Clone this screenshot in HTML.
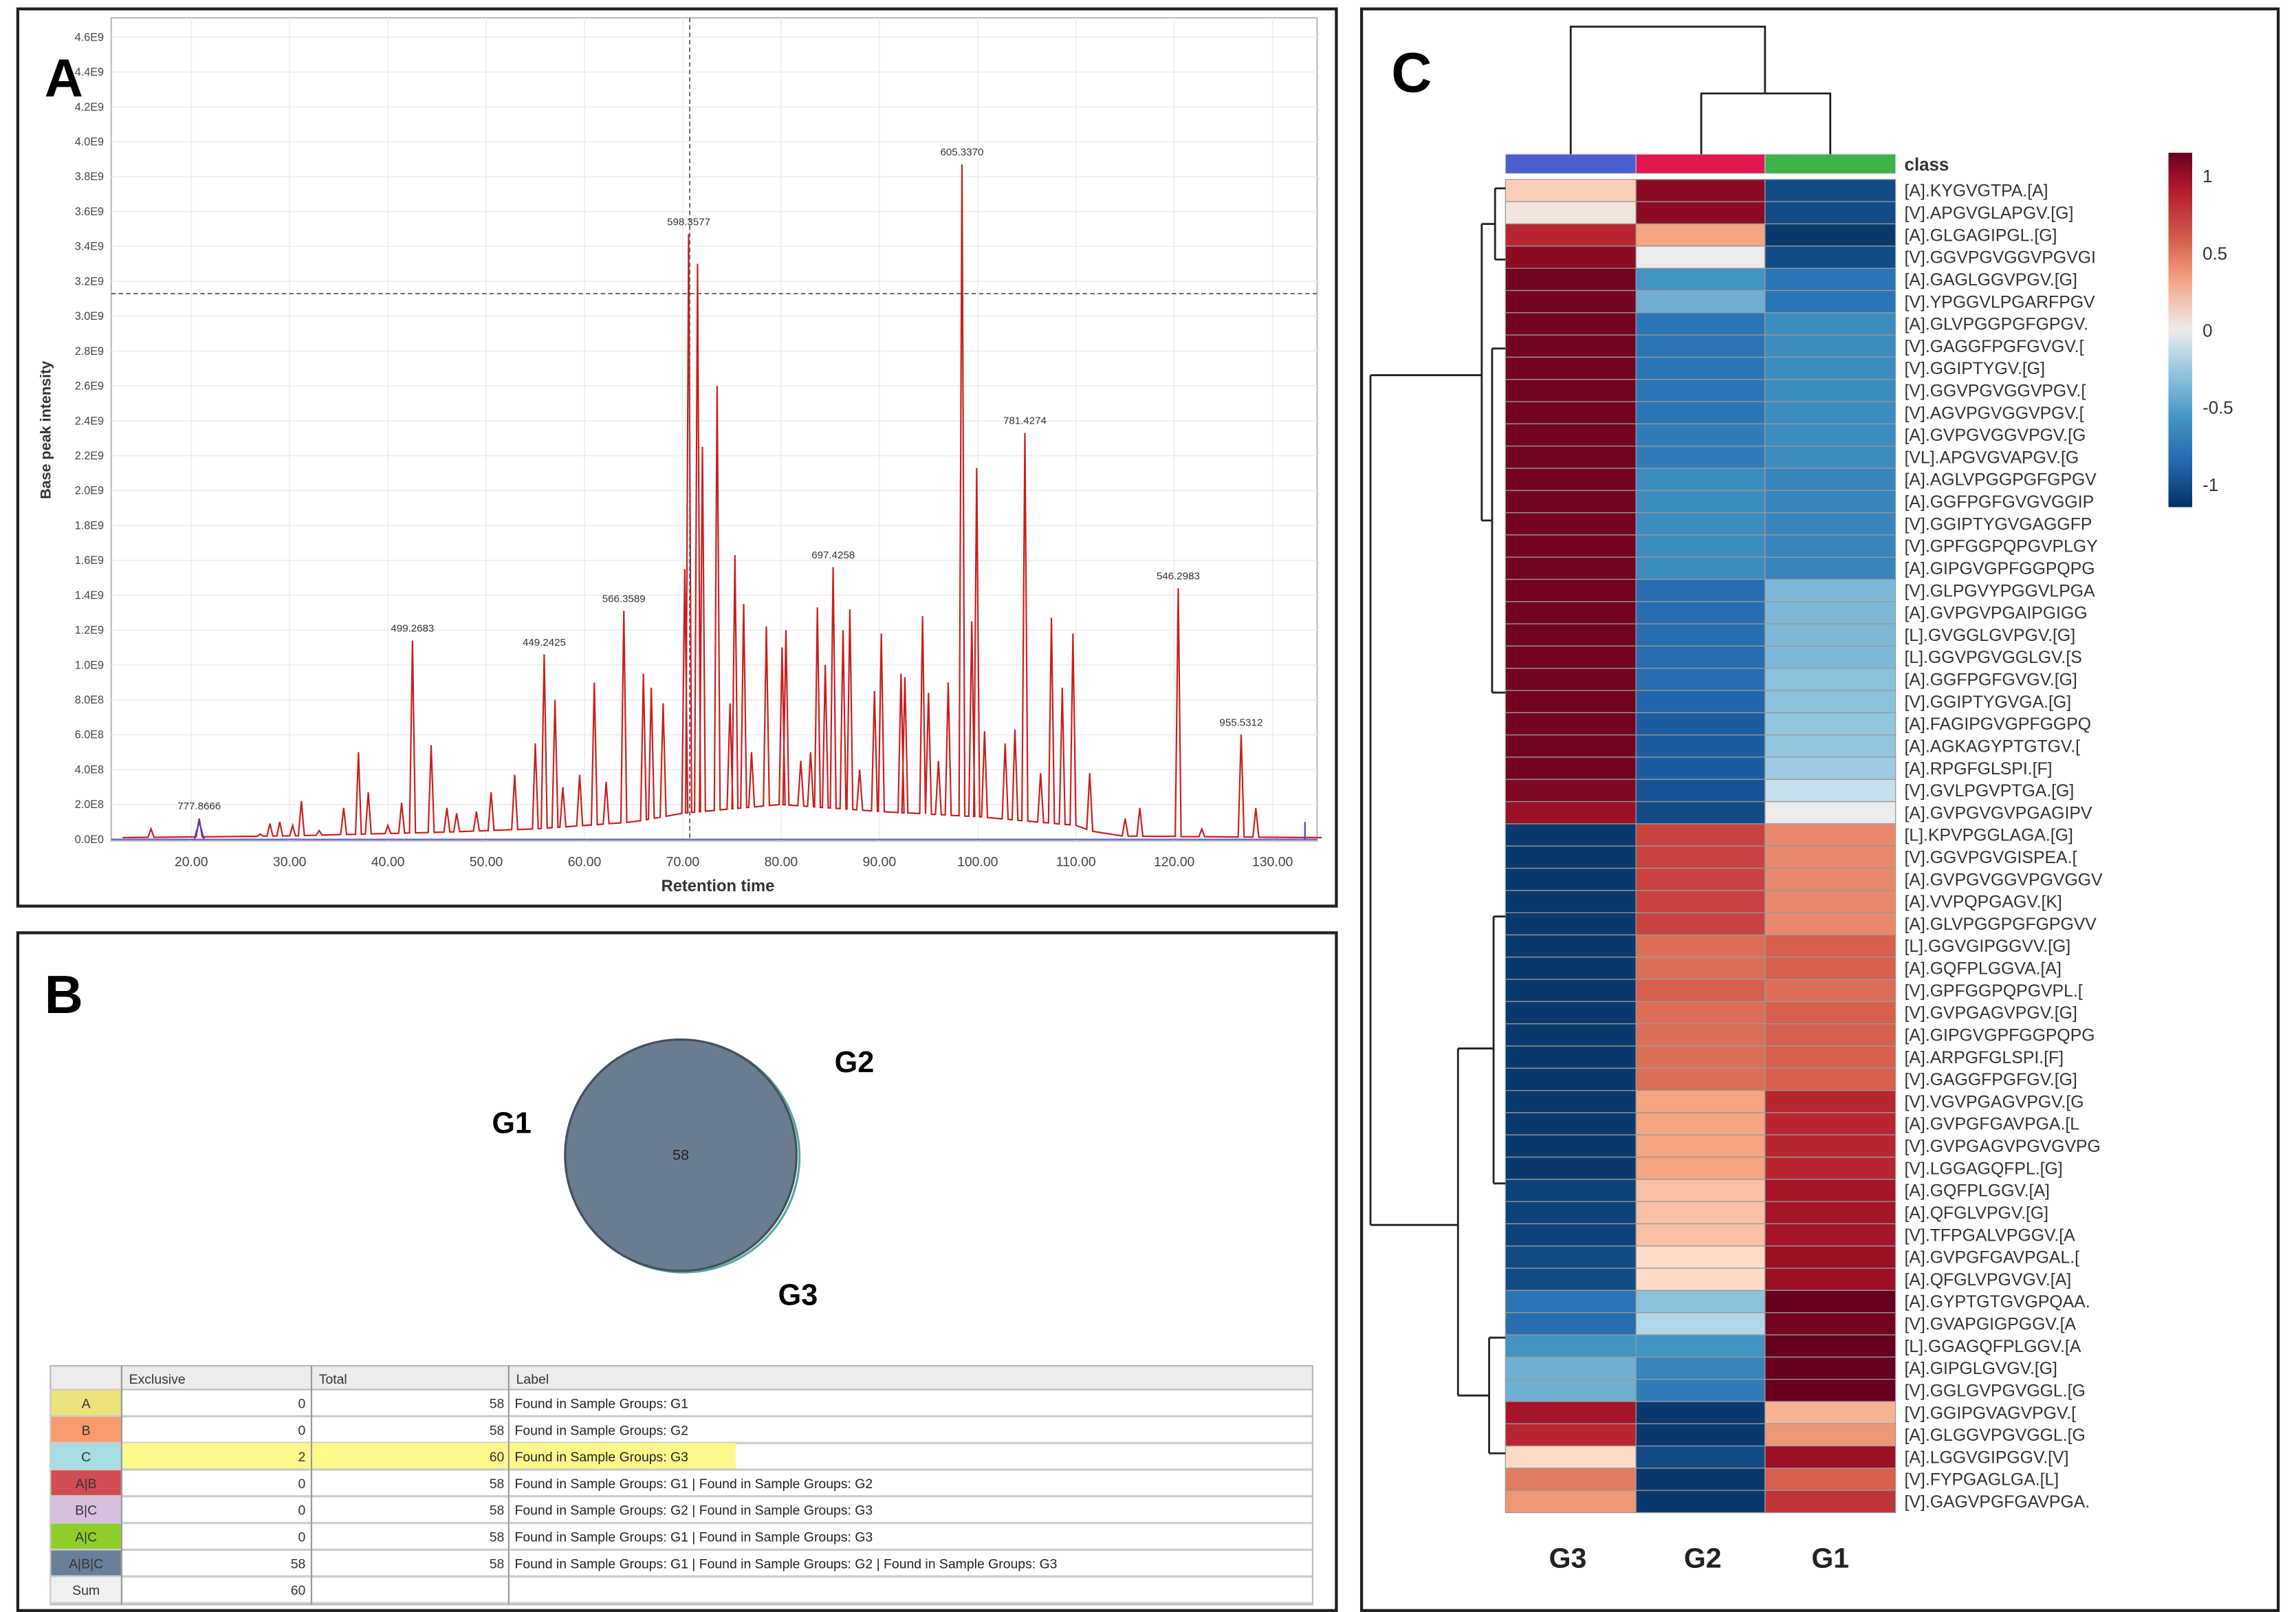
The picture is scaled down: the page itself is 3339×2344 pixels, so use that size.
<!DOCTYPE html>
<html><head><meta charset="utf-8"><style>
html,body{margin:0;padding:0;background:#fff;}
svg{display:block;font-family:"Liberation Sans",sans-serif;}
</style></head><body>
<svg id="fig" width="3339" height="2344" viewBox="0 0 1548 1087" preserveAspectRatio="none" xmlns="http://www.w3.org/2000/svg">
<rect x="0" y="0" width="1548" height="1087" fill="#fff"/>
<g id="panelA">
<rect x="12" y="6" width="889" height="605" fill="#fff" stroke="#222" stroke-width="2"/>
<rect x="75" y="12" width="813" height="555" fill="#fff" stroke="#bbb" stroke-width="1"/>
<g id="aGrid"></g><g id="aTicks"></g>
<text x="30" y="65" font-size="36" font-weight="bold">A</text>
<text x="484" y="601" font-size="11" font-weight="bold" text-anchor="middle" fill="#333">Retention time</text>
<text transform="translate(34,290) rotate(-90)" font-size="10" font-weight="bold" text-anchor="middle" fill="#333">Base peak intensity</text>
<path id="trace" fill="none" stroke="#c81e1e" stroke-width="1"/>
<g id="aLabels"></g>
<line x1="465" y1="12" x2="465" y2="567" stroke="#555" stroke-dasharray="3,2" stroke-width="0.8"/>
<line x1="75" y1="198" x2="888" y2="198" stroke="#555" stroke-dasharray="3,2" stroke-width="0.8"/>
</g>
<g id="panelB">
<rect x="12" y="629" width="889" height="457" fill="#fff" stroke="#222" stroke-width="2"/>
<text x="30" y="683" font-size="36" font-weight="bold">B</text>
<circle cx="461" cy="780" r="78" fill="none" stroke="#5aa8a0" stroke-width="1.5"/>
<circle cx="459" cy="779" r="78" fill="#6b7c8e" stroke="#44505c" stroke-width="1.5"/>
<text x="459" y="782" font-size="10" text-anchor="middle" fill="#222">58</text>
<text x="345" y="764" font-size="20" font-weight="bold" text-anchor="middle">G1</text>
<text x="576" y="723" font-size="20" font-weight="bold" text-anchor="middle">G2</text>
<text x="538" y="880" font-size="20" font-weight="bold" text-anchor="middle">G3</text>
<g id="vennTable"></g>
</g>
<g id="panelC">
<rect x="918" y="6" width="618" height="1080" fill="#fff" stroke="#222" stroke-width="2"/>
<text x="938" y="62" font-size="38" font-weight="bold">C</text>
<g id="heat"></g>
<g id="dendro" stroke="#222" stroke-width="1.3" fill="none">
<path d="M1059 104 V18 H1190 V63 M1147 104 V63 H1234 V104"/>
<path d="M924 253 V826 M924 253 H999 M999 151 V351 M999 151 H1008 M1008 127 V175 M1008 127 H1015 M1008 175 H1015 M999 351 H1006 M1006 235 V467 M1006 235 H1015 M1006 467 H1015"/>
<path d="M924 826 H983 M983 707 V941 M983 707 H1007 M1007 618 V798 M1007 618 H1015 M1007 798 H1015 M983 941 H1004 M1004 902 V980 M1004 902 H1015 M1004 980 H1015"/>
</g>
<text x="1284" y="115" font-size="12" font-weight="bold" fill="#333">class</text>
<defs><linearGradient id="cb" x1="0" y1="0" x2="0" y2="1">
<stop offset="0" stop-color="#67001f"/><stop offset="0.1" stop-color="#b2182b"/><stop offset="0.25" stop-color="#d6604d"/><stop offset="0.36" stop-color="#f4a582"/><stop offset="0.5" stop-color="#ececec"/><stop offset="0.62" stop-color="#92c5de"/><stop offset="0.75" stop-color="#4393c3"/><stop offset="0.88" stop-color="#2166ac"/><stop offset="1" stop-color="#053061"/></linearGradient></defs>
<rect x="1462" y="103" width="16" height="239" fill="url(#cb)"/>
<g font-size="12" fill="#333">
<text x="1485" y="123">1</text><text x="1485" y="175">0.5</text><text x="1485" y="227">0</text><text x="1485" y="279">-0.5</text><text x="1485" y="331">-1</text></g>
<g font-size="19" font-weight="bold" text-anchor="middle" fill="#222">
<text x="1057" y="1057">G3</text>
<text x="1148" y="1057">G2</text>
<text x="1234" y="1057">G1</text></g>
</g>
</svg>
<script>
const NS="http://www.w3.org/2000/svg";
function mk(tag,attrs,parent){const e=document.createElementNS(NS,tag);for(const k in attrs)e.setAttribute(k,attrs[k]);parent.appendChild(e);return e;}
const peakTimes=[15.9,20.8,27,28,29,30.3,31.2,33,35.5,37,38,40,41.4,42.5,44.4,46,47,49,50.5,52.9,55,55.9,57,57.8,59.5,61,62.2,64.0,66,66.8,68,70.2,70.6,71.5,72,73.5,74.8,75.3,76.2,77,78.5,80.1,80.5,82,83,83.7,84.5,85.3,86.3,87,88,89.5,90.2,92.2,92.6,94.4,95,96,97,98.4,99.4,99.9,100.7,102.8,103.8,104.8,106.4,107.5,108.6,109.7,111.4,115,116.5,120.4,122.8,126.8,128.3];
const peakHeights=[0.06,0.12,0.03,0.09,0.1,0.08,0.22,0.05,0.18,0.5,0.27,0.08,0.21,1.14,0.54,0.18,0.15,0.16,0.27,0.37,0.55,1.06,0.8,0.3,0.37,0.9,0.33,1.31,0.95,0.87,0.78,1.55,3.47,3.3,2.25,2.6,0.78,1.63,1.35,0.5,1.22,1.1,1.2,0.45,0.5,1.33,1.0,1.56,1.2,1.32,0.4,0.85,1.18,0.95,0.93,1.28,0.84,0.45,0.9,3.87,1.25,2.13,0.62,0.55,0.63,2.33,0.38,1.27,0.87,1.18,0.38,0.12,0.18,1.44,0.06,0.6,0.18];
const baseTimes=[13,30,45,55,65,70,80,90,100,110,113,135];
const baseVals=[0.01,0.02,0.04,0.06,0.1,0.15,0.2,0.16,0.13,0.08,0.02,0.01];
const peakLabelTimes=[20.8,42.5,55.9,64.0,70.6,85.3,98.4,104.8,120.4,126.8];
const peakLabelText=["777.8666","499.2683","449.2425","566.3589","598.3577","697.4258","605.3370","781.4274","546.2983","955.5312"];
const peakLabelHeights=[0.12,1.14,1.06,1.31,3.47,1.56,3.87,2.33,1.44,0.6];
const xTicks=[20,30,40,50,60,70,80,90,100,110,120,130];
const yTicks=[0,0.2,0.4,0.6,0.8,1.0,1.2,1.4,1.6,1.8,2.0,2.2,2.4,2.6,2.8,3.0,3.2,3.4,3.6,3.8,4.0,4.2,4.4,4.6];
const xs=t=>129+(t-20)*6.627, ys=v=>566-v*117.6;
const grid=document.getElementById('aGrid'), ticksG=document.getElementById('aTicks');
yTicks.forEach(v=>{
 const l=mk('line',{x1:75,x2:888,y1:ys(v),y2:ys(v),stroke:'#eee','stroke-width':0.8},grid);
 
 
 const lab=v===0?'0.0E0':(v<1?(v*10).toFixed(1)+'E8':v.toFixed(1)+'E9');
 const t=mk('text',{x:70,y:ys(v)+2.5,'font-size':7.5,'text-anchor':'end',fill:'#444'},ticksG);t.textContent=lab;
 
 
});
xTicks.forEach(v=>{
 const l=mk('line',{x1:xs(v),x2:xs(v),y1:12,y2:567,stroke:'#eee','stroke-width':0.8},grid);
 
 
 const t=mk('text',{x:xs(v),y:584,'font-size':9,'text-anchor':'middle',fill:'#444'},ticksG);t.textContent=v.toFixed(2);
 
 
});
function base(t){for(let i=0;i<baseTimes.length-1;i++){if(t<=baseTimes[i+1]){const f=(t-baseTimes[i])/(baseTimes[i+1]-baseTimes[i]);return baseVals[i]+f*(baseVals[i+1]-baseVals[i]);}}return 0.01;}
let d='M'+xs(13)+' '+ys(base(13));
peakTimes.forEach((t,i)=>{
 d+=' L'+xs(t-0.3).toFixed(1)+' '+ys(base(t-0.3)).toFixed(1)+' L'+xs(t).toFixed(1)+' '+ys(peakHeights[i]).toFixed(1)+' L'+xs(t+0.3).toFixed(1)+' '+ys(base(t+0.3)).toFixed(1);
});
d+=' L'+xs(135)+' '+ys(base(135));
document.getElementById('trace').setAttribute('d',d);
const al=document.getElementById('aLabels');
peakLabelTimes.forEach((t,i)=>{
 const e=mk('text',{x:xs(t),y:ys(peakLabelHeights[i])-6,'font-size':7,'text-anchor':'middle',fill:'#333'},al);e.textContent=peakLabelText[i];
 
 
});
mk('line',{x1:75,x2:888,y1:566,y2:566,stroke:'#6060d0','stroke-width':1},al);
mk('path',{d:'M'+xs(20.3)+' 566 L'+xs(20.8)+' '+ys(0.1)+' L'+xs(21.3)+' 566 M'+xs(133.3)+' 566 V'+ys(0.1),stroke:'#4040d0',fill:'none','stroke-width':1},al);
const rowKeys=["A","B","C","A|B","B|C","A|C","A|B|C","Sum"];
const rowExclusive=["0","0","2","0","0","0","58","60"];
const rowTotal=["58","58","60","58","58","58","58",""];
const rowLabels=["Found in Sample Groups: G1","Found in Sample Groups: G2","Found in Sample Groups: G3","Found in Sample Groups: G1 | Found in Sample Groups: G2","Found in Sample Groups: G2 | Found in Sample Groups: G3","Found in Sample Groups: G1 | Found in Sample Groups: G3","Found in Sample Groups: G1 | Found in Sample Groups: G2 | Found in Sample Groups: G3",""];
const rowColors=["#ece27a","#f79a6c","#a6dde2","#d24d52","#d7c0df","#8fce2a","#6a7f99","#f0f0f0"];
const tb=document.getElementById('vennTable');
mk('rect',{x:34,y:921,width:851,height:161,fill:'#fff',stroke:'#bbb'},tb);
mk('rect',{x:34,y:921,width:851,height:16,fill:'#ececec',stroke:'#bbb'},tb);
[['Exclusive',87],['Total',215],['Label',348]].forEach(h=>{const t=mk('text',{x:h[1],y:933,'font-size':9,fill:'#333'},tb);t.textContent=h[0];
 
 });
rowKeys.forEach((k,i)=>{
 const y=937+i*18;
 if(k==='C'){mk('rect',{x:82,y:y,width:414,height:18,fill:'#fbf98c'},tb);}
 const r=mk('rect',{x:34,y:y,width:48,height:18,fill:rowColors[i],stroke:'#ccc'},tb);
 
 
 mk('line',{x1:34,x2:885,y1:y+18,y2:y+18,stroke:'#ccc','stroke-width':1.5},tb);
 const t1=mk('text',{x:58,y:y+12.5,'font-size':9,'text-anchor':'middle',fill:'#333'},tb);t1.textContent=k;
 const t2=mk('text',{x:206,y:y+12.5,'font-size':9,'text-anchor':'end',fill:'#333'},tb);t2.textContent=rowExclusive[i];
 const t3=mk('text',{x:340,y:y+12.5,'font-size':9,'text-anchor':'end',fill:'#333'},tb);t3.textContent=rowTotal[i];
 const t4=mk('text',{x:347,y:y+12.5,'font-size':9,fill:'#222'},tb);t4.textContent=rowLabels[i];
 [t1,t2,t3,t4].forEach(t=>{
 });
});
[82,210,343].forEach(x=>mk('line',{x1:x,x2:x,y1:921,y2:1082,stroke:'#999'},tb));
const peptides=["[A].KYGVGTPA.[A]","[V].APGVGLAPGV.[G]","[A].GLGAGIPGL.[G]","[V].GGVPGVGGVPGVGI","[A].GAGLGGVPGV.[G]","[V].YPGGVLPGARFPGV","[A].GLVPGGPGFGPGV.","[V].GAGGFPGFGVGV.[","[V].GGIPTYGV.[G]","[V].GGVPGVGGVPGV.[","[V].AGVPGVGGVPGV.[","[A].GVPGVGGVPGV.[G","[VL].APGVGVAPGV.[G","[A].AGLVPGGPGFGPGV","[A].GGFPGFGVGVGGIP","[V].GGIPTYGVGAGGFP","[V].GPFGGPQPGVPLGY","[A].GIPGVGPFGGPQPG","[V].GLPGVYPGGVLPGA","[A].GVPGVPGAIPGIGG","[L].GVGGLGVPGV.[G]","[L].GGVPGVGGLGV.[S","[A].GGFPGFGVGV.[G]","[V].GGIPTYGVGA.[G]","[A].FAGIPGVGPFGGPQ","[A].AGKAGYPTGTGV.[","[A].RPGFGLSPI.[F]","[V].GVLPGVPTGA.[G]","[A].GVPGVGVPGAGIPV","[L].KPVPGGLAGA.[G]","[V].GGVPGVGISPEA.[","[A].GVPGVGGVPGVGGV","[A].VVPQPGAGV.[K]","[A].GLVPGGPGFGPGVV","[L].GGVGIPGGVV.[G]","[A].GQFPLGGVA.[A]","[V].GPFGGPQPGVPL.[","[V].GVPGAGVPGV.[G]","[A].GIPGVGPFGGPQPG","[A].ARPGFGLSPI.[F]","[V].GAGGFPGFGV.[G]","[V].VGVPGAGVPGV.[G","[A].GVPGFGAVPGA.[L","[V].GVPGAGVPGVGVPG","[V].LGGAGQFPL.[G]","[A].GQFPLGGV.[A]","[A].QFGLVPGV.[G]","[V].TFPGALVPGGV.[A","[A].GVPGFGAVPGAL.[","[A].QFGLVPGVGV.[A]","[A].GYPTGTGVGPQAA.","[V].GVAPGIGPGGV.[A","[L].GGAGQFPLGGV.[A","[A].GIPGLGVGV.[G]","[V].GGLGVPGVGGL.[G","[V].GGIPGVAGVPGV.[","[A].GLGGVPGVGGL.[G","[A].LGGVGIPGGV.[V]","[V].FYPGAGLGA.[L]","[V].GAGVPGFGAVPGA."];
const valsG3=[0.2,0.05,0.8,1.0,1.1,1.1,1.1,1.1,1.1,1.1,1.1,1.1,1.1,1.1,1.1,1.1,1.1,1.1,1.1,1.1,1.1,1.1,1.1,1.1,1.1,1.1,1.1,1.05,0.95,-1.1,-1.1,-1.1,-1.1,-1.1,-1.1,-1.1,-1.1,-1.1,-1.1,-1.1,-1.1,-1.1,-1.1,-1.1,-1.1,-1.05,-1.05,-1.05,-1.0,-1.0,-0.75,-0.8,-0.55,-0.4,-0.4,0.9,0.8,0.15,0.5,0.4];
const valsG2=[1.0,1.0,0.35,0.0,-0.55,-0.4,-0.75,-0.75,-0.75,-0.75,-0.75,-0.7,-0.7,-0.6,-0.6,-0.6,-0.6,-0.6,-0.8,-0.8,-0.8,-0.8,-0.8,-0.85,-0.9,-0.9,-0.9,-0.95,-1.0,0.7,0.7,0.7,0.7,0.7,0.55,0.55,0.6,0.55,0.55,0.55,0.55,0.35,0.35,0.35,0.35,0.25,0.25,0.25,0.15,0.15,-0.3,-0.2,-0.55,-0.65,-0.7,-1.1,-1.1,-1.0,-1.1,-1.1];
const valsG1=[-1.0,-1.0,-1.1,-1.0,-0.75,-0.75,-0.6,-0.6,-0.6,-0.6,-0.6,-0.6,-0.6,-0.65,-0.65,-0.65,-0.65,-0.65,-0.35,-0.35,-0.35,-0.35,-0.3,-0.3,-0.28,-0.28,-0.25,-0.15,0.0,0.45,0.45,0.45,0.45,0.45,0.6,0.6,0.55,0.6,0.6,0.6,0.6,0.8,0.8,0.8,0.8,0.9,0.9,0.9,0.95,0.95,1.15,1.1,1.2,1.2,1.2,0.3,0.4,0.95,0.6,0.75];
const classColors=["#4a5fd0","#e0184f","#3db34a"];
const stops=[[-1.15,[5,48,97]],[-0.85,[33,102,172]],[-0.55,[67,147,195]],[-0.28,[146,197,222]],[-0.12,[209,229,240]],[0,[236,234,234]],[0.15,[253,219,199]],[0.35,[244,165,130]],[0.6,[214,96,77]],[0.85,[178,24,43]],[1.15,[103,0,31]]];
function col(v){v=Math.max(-1.15,Math.min(1.15,v));for(let i=0;i<stops.length-1;i++){const a=stops[i],b=stops[i+1];if(v<=b[0]){const f=(v-a[0])/(b[0]-a[0]);return 'rgb('+a[1].map((c,j)=>Math.round(c+f*(b[1][j]-c))).join(',')+')';}}return 'rgb(103,0,31)';}
const hm=document.getElementById('heat');
const colX=[1015,1103,1190], colW=[88,87,88], hTop=121, rh=(1020-121)/peptides.length;
classColors.forEach((c,j)=>{const r=mk('rect',{x:colX[j],y:104,width:colW[j],height:13,fill:c,stroke:'#ccc','stroke-width':0.5},hm);
 
 });
const series=[valsG3,valsG2,valsG1];
peptides.forEach((p,i)=>{
 const y=hTop+i*rh;
 series.forEach((s,j)=>{
  const r=mk('rect',{x:colX[j],y:y,width:colW[j],height:rh,fill:col(s[i]),stroke:'#999','stroke-width':0.6},hm);
  
  
 });
 const t=mk('text',{x:1284,y:y+rh/2+4,'font-size':11.5,fill:'#333'},hm);t.textContent=p;
 
 
});
</script>
</body></html>
